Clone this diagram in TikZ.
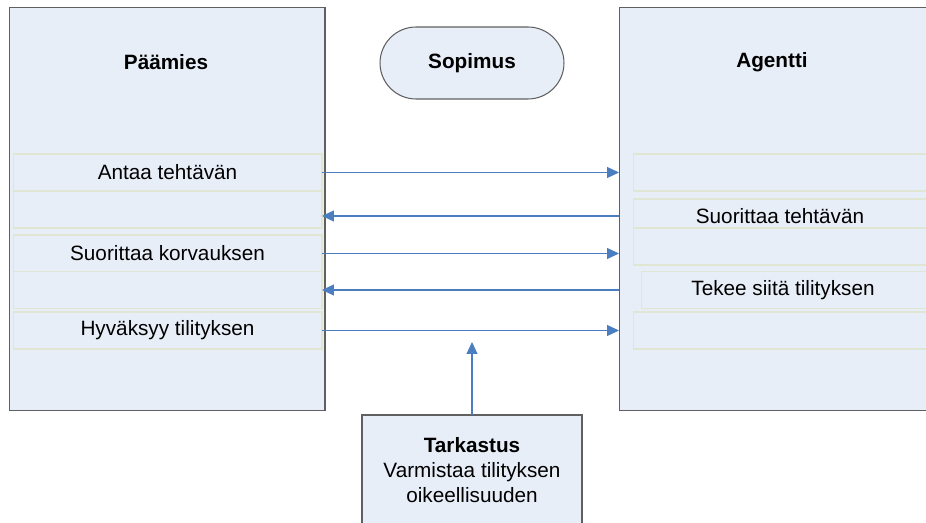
\documentclass[tikz,border=0pt]{standalone}
\usepackage{fontspec}
\setmainfont{Liberation Sans}
\usetikzlibrary{arrows.meta}
\definecolor{boxfill}{RGB}{232,238,247}
\definecolor{boxline}{RGB}{96,96,96}
\definecolor{rowline}{RGB}{224,230,210}
\definecolor{flowblue}{RGB}{74,126,193}
\begin{document}
\begin{tikzpicture}[x=0.02cm,y=-0.02cm,
		bigbox/.style={draw=boxline,fill=boxfill,line width=0.6pt,inner sep=0pt,outer sep=0pt},
		rowbox/.style={draw=rowline,fill=boxfill,line width=0.6pt,inner sep=0pt,outer sep=0pt,minimum height=0.74cm},
		flowarrow/.style={draw=flowblue,line width=0.6pt,-{Triangle[length=0.24cm,width=0.22cm]}}]
			\newcommand{\myfontbox}[1]{
				\fontsize{11.8}{14}\selectfont{#1}
			}\newcommand{\myfontbold}[1]{
				\fontsize{11.8}{14}\selectfont\bfseries{#1}
			}%Page frame
			\useasboundingbox (0,0) rectangle (926,523);
			\clip (0,0) rectangle (926,523);
			%The two parties
			\coordinate (leftcenter) at (167,209);
			\coordinate (rightcenter) at (777,209);
			\node [bigbox,minimum width=6.32cm,minimum height=8.08cm] (paamies) at (leftcenter) {};
			\node [bigbox,minimum width=6.32cm,minimum height=8.08cm] (agentti) at (rightcenter) {};
			\node [] (paamiesname) at (166,62) {\myfontbold{Päämies}};
			\node [] (agenttiname) at (772,62) {\myfontbold{Agentti}};
			%The contract
			\node [bigbox,minimum width=3.68cm,minimum height=1.44cm,rounded corners=0.72cm] (sopimus) at (472,63) {\myfontbold{Sopimus}};
			%Rows of the principal
			\node [rowbox,minimum width=6.18cm] (antaa) at (167.5,172.5) {\myfontbox{Antaa tehtävän}};
			\node [rowbox,minimum width=6.18cm] (lefty1) at (167.5,209.5) {};
			\node [rowbox,minimum width=6.18cm] (korvaus) at (167.5,253.5) {\myfontbox{Suorittaa korvauksen}};
			\node [rowbox,minimum width=6.18cm] (lefty2) at (167.5,290) {};
			\node [rowbox,minimum width=6.18cm] (hyvaksyy) at (167.5,330.5) {\myfontbox{Hyväksyy tilityksen}};
			%Rows of the agent
			\node [rowbox,minimum width=6.04cm] (righty1) at (784,172.5) {};
			\node [rowbox,minimum width=6.04cm] (tehtava) at (784,217.5) {};
			\node [rowbox,minimum width=6.04cm] (righty2) at (784,246.5) {};
			\node [rowbox,minimum width=5.84cm] (tilitys) at (787,290) {};
			\node [rowbox,minimum width=6.04cm] (righty3) at (784,330.5) {};
			\node [] (tehtavatext) at (780,216) {\myfontbox{Suorittaa tehtävän}};
			\node [] (tilitystext) at (783,290) {\myfontbox{Tekee siitä tilityksen}};
			%Arrows between the parties
			\draw [flowarrow] (antaa.east) -- (antaa.east -| agentti.west);
			\draw [flowarrow] (tehtavatext.center -| agentti.west) -- (tehtavatext.center -| lefty1.east);
			\draw [flowarrow] (korvaus.east) -- (korvaus.east -| agentti.west);
			\draw [flowarrow] (tilitys.center -| agentti.west) -- (tilitys.center -| lefty2.east);
			\draw [flowarrow] (hyvaksyy.east) -- (hyvaksyy.east -| agentti.west);
			%The audit
			\node [bigbox,minimum width=4.4cm,minimum height=2.5cm] (tarkastus) at (472,477.5) {};
			\node [align=center,font=\fontsize{11.8}{14.2}\selectfont] (tarkastustext) at (472,470) {\textbf{Tarkastus}\\Varmistaa tilityksen\\oikeellisuuden};
			\coordinate (audittip) at (472,342);
			\draw [flowarrow] (tarkastus.north) -- (audittip);
			\end{tikzpicture}
\end{document}
